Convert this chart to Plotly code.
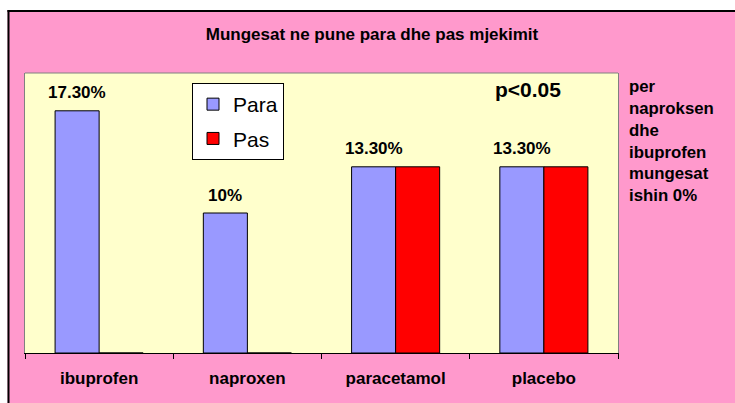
import plotly.graph_objects as go

categories = ["ibuprofen", "naproxen", "paracetamol", "placebo"]
para = [17.3, 10, 13.3, 13.3]
pas = [0, 0, 13.3, 13.3]
para_labels = ["17.30%", "10%", "13.30%", "13.30%"]
series_names = ["Para", "Pas"]
title_text = "Mungesat ne pune para dhe pas mjekimit"
p_text = "p<0.05"
note_lines = ["per", "naproksen", "dhe", "ibuprofen", "mungesat", "ishin 0%"]

# body margin is removed in post_script, so the figure starts at (0, 0)
OFF = 0
W, H = 735, 403
L, T = 25, 73
PW, PH = 593, 280
R, B = W - L - PW, H - T - PH
PINK = "#FF99CC"
YELLOW = "#FFFFCC"
BLUE = "#9999FF"
RED = "#FF0000"
FONT = "Arial, Liberation Sans, sans-serif"


def px_x(px):
    """screen x pixel -> paper x"""
    return (px - OFF - L) / PW


def px_y(py):
    """screen y pixel -> paper y"""
    return (H - B - (py - OFF)) / PH


fig = go.Figure()
fig.add_trace(go.Bar(x=categories, y=para, name=series_names[0], legendgroup="a",
                     marker=dict(color=BLUE, line=dict(color="black", width=1))))
fig.add_trace(go.Bar(x=categories, y=pas, name=series_names[1], legendgroup="b",
                     marker=dict(color=RED, line=dict(color="black", width=1))))

annotations = []
for c, v, t in zip(categories, para, para_labels):
    annotations.append(dict(x=c, y=v, xref="x", yref="y", text=t, showarrow=False,
                            xshift=-22, yshift=18, yanchor="middle",
                            font=dict(family=FONT, size=17, color="black", weight="bold")))
annotations.append(dict(x=px_x(493), y=px_y(89), xref="paper", yref="paper", text=p_text,
                        showarrow=False, xanchor="left", yanchor="middle",
                        font=dict(family=FONT, size=21, color="black", weight="bold")))
annotations.append(dict(x=px_x(627), y=px_y(141), xref="paper", yref="paper",
                        text="<br>".join(note_lines), align="left",
                        showarrow=False, xanchor="left", yanchor="middle",
                        font=dict(family=FONT, size=16.8, color="black", weight="bold")))

shapes = [
    # white strips left of and above the pink frame
    dict(type="rect", xref="paper", yref="paper", x0=-0.2, x1=1.5, y0=px_y(10), y1=1.5,
         fillcolor="white", line=dict(width=0), layer="below"),
    dict(type="rect", xref="paper", yref="paper", x0=-0.2, x1=px_x(7.5), y0=-0.5, y1=1.5,
         fillcolor="white", line=dict(width=0), layer="below"),
    # black frame lines
    dict(type="line", xref="paper", yref="paper", x0=px_x(8.5), x1=px_x(8.5), y0=-0.5, y1=px_y(10),
         line=dict(color="black", width=2), layer="below"),
    dict(type="line", xref="paper", yref="paper", x0=px_x(7.5), x1=1.5, y0=px_y(11), y1=px_y(11),
         line=dict(color="black", width=2), layer="below"),
    # gray top border of plot area
    dict(type="line", xref="paper", yref="paper", x0=0, x1=1, y0=1, y1=1,
         line=dict(color="#808080", width=1)),
]

fig.update_layout(
    width=W, height=H,
    margin=dict(l=L, r=R, t=T, b=B, pad=0),
    paper_bgcolor=PINK,
    plot_bgcolor=YELLOW,
    barmode="group",
    bargap=0.406,
    bargroupgap=0,
    title=dict(text=title_text, x=px_x(372), xref="paper", xanchor="center",
               y=1 - (34 - OFF) / H, yref="container", yanchor="middle",
               font=dict(family=FONT, size=17, color="black", weight="bold")),
    legend=dict(x=px_x(192), y=px_y(83), xanchor="left", yanchor="top",
                bgcolor="white", bordercolor="black", borderwidth=1,
                traceorder="grouped", tracegroupgap=4,
                font=dict(family=FONT, size=21, color="black")),
    xaxis=dict(showline=True, linecolor="black", linewidth=1, ticks="outside",
               tickson="boundaries", ticklen=5, tickcolor="black", tickwidth=1,
               showgrid=False, ticklabelstandoff=10,
               tickfont=dict(family=FONT, size=17, color="black", weight="bold")),
    yaxis=dict(range=[0, 20], showline=True, linecolor="#808080", mirror=True,
               showticklabels=False, showgrid=False, zeroline=False, ticks=""),
    annotations=annotations,
    shapes=shapes,
)

fig.write_html(
    "out.html",
    config={"displayModeBar": False},
    post_script=(
        "document.body.style.margin='0';"
        "document.documentElement.style.overflow='hidden';"
        "document.body.style.overflow='hidden';"
    ),
)
